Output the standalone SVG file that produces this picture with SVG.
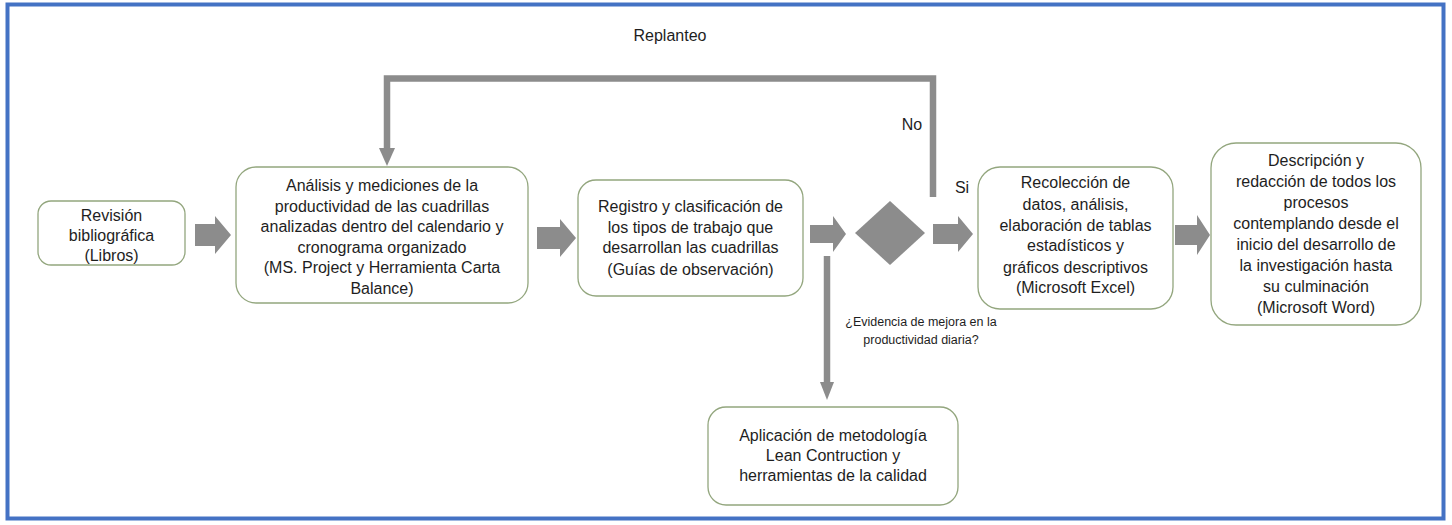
<svg xmlns="http://www.w3.org/2000/svg" width="1452" height="525" viewBox="0 0 1452 525">
<style>
.box{fill:#ffffff;stroke:#93a67e;stroke-width:1.3}
.t{font-family:"Liberation Sans",Arial,sans-serif;font-size:16px;fill:#1e1e1e;text-anchor:middle}
.s{font-family:"Liberation Sans",Arial,sans-serif;font-size:12.5px;fill:#1e1e1e;text-anchor:middle}
.blk{fill:#8c8c8c}
.ln{fill:none;stroke:#8c8c8c;stroke-width:6.5}
</style>
<rect x="7.5" y="4.5" width="1436" height="514" fill="#ffffff" stroke="#4472c4" stroke-width="4"/>
<g id="connectors">
  <polygon class="blk" points="195,224 215,224 215,216 231,235 215,254 215,246 195,246"/>
  <polygon class="blk" points="537,227 560,227 560,219 576,238 560,257 560,249 537,249"/>
  <polygon class="blk" points="810,225 833,225 833,216 846,234 833,252 833,243 810,243"/>
  <polygon class="blk" points="933,224 958,224 958,216 973,234 958,252 958,244 933,244"/>
  <polygon class="blk" points="1175,225 1197,225 1197,215 1210,235 1197,255 1197,245 1175,245"/>
  <polyline class="ln" points="933,197 933,78.5 387,78.5 387,149"/>
  <polygon class="blk" points="379,148 395,148 387,166"/>
  <line class="ln" x1="827" y1="256" x2="827" y2="384"/>
  <polygon class="blk" points="820,382 834,382 827,400"/>
  <text class="t" x="670" y="41">Replanteo</text>
  <text class="t" x="912" y="130">No</text>
  <text class="t" x="962" y="193">Si</text>
</g>
<g id="n1">
  <rect class="box" x="38" y="201" width="147" height="64" rx="13"/>
  <text class="t" x="111.5" y="221">Revisión</text>
  <text class="t" x="111.5" y="241">bibliográfica</text>
  <text class="t" x="111.5" y="261">(Libros)</text>
</g>
<g id="n2">
  <rect class="box" x="236" y="167" width="292" height="136" rx="20"/>
  <text class="t" x="382" y="191">Análisis y mediciones de la</text>
  <text class="t" x="382" y="212">productividad de las cuadrillas</text>
  <text class="t" x="382" y="232">analizadas dentro del calendario y</text>
  <text class="t" x="382" y="253">cronograma organizado</text>
  <text class="t" x="382" y="273">(MS. Project y Herramienta Carta</text>
  <text class="t" x="382" y="294">Balance)</text>
</g>
<g id="n3">
  <rect class="box" x="578" y="180" width="225" height="116" rx="18"/>
  <text class="t" x="690.5" y="212">Registro y clasificación de</text>
  <text class="t" x="690.5" y="233">los tipos de trabajo que</text>
  <text class="t" x="690.5" y="253">desarrollan las cuadrillas</text>
  <text class="t" x="690.5" y="275">(Guías de observación)</text>
</g>
<g id="decision">
  <polygon fill="#8c8c8c" points="890,201 925,233 890,265 855,233"/>
  <text class="s" x="921" y="326">¿Evidencia de mejora en la</text>
  <text class="s" x="921" y="344">productividad diaria?</text>
</g>
<g id="n4">
  <rect class="box" x="978" y="167" width="195" height="142" rx="22"/>
  <text class="t" x="1075.5" y="188">Recolección de</text>
  <text class="t" x="1075.5" y="210">datos, análisis,</text>
  <text class="t" x="1075.5" y="231">elaboración de tablas</text>
  <text class="t" x="1075.5" y="251">estadísticos y</text>
  <text class="t" x="1075.5" y="273">gráficos descriptivos</text>
  <text class="t" x="1075.5" y="293">(Microsoft Excel)</text>
</g>
<g id="n5">
  <rect class="box" x="1211" y="143" width="210" height="182" rx="25"/>
  <text class="t" x="1316" y="166">Descripción y</text>
  <text class="t" x="1316" y="187">redacción de todos los</text>
  <text class="t" x="1316" y="208">procesos</text>
  <text class="t" x="1316" y="229">contemplando desde el</text>
  <text class="t" x="1316" y="250">inicio del desarrollo de</text>
  <text class="t" x="1316" y="271">la investigación hasta</text>
  <text class="t" x="1316" y="292">su culminación</text>
  <text class="t" x="1316" y="313">(Microsoft Word)</text>
</g>
<g id="n6">
  <rect class="box" x="708" y="407" width="250" height="98" rx="18"/>
  <text class="t" x="833" y="441">Aplicación de metodología</text>
  <text class="t" x="833" y="461">Lean Contruction y</text>
  <text class="t" x="833" y="481">herramientas de la calidad</text>
</g>
</svg>
